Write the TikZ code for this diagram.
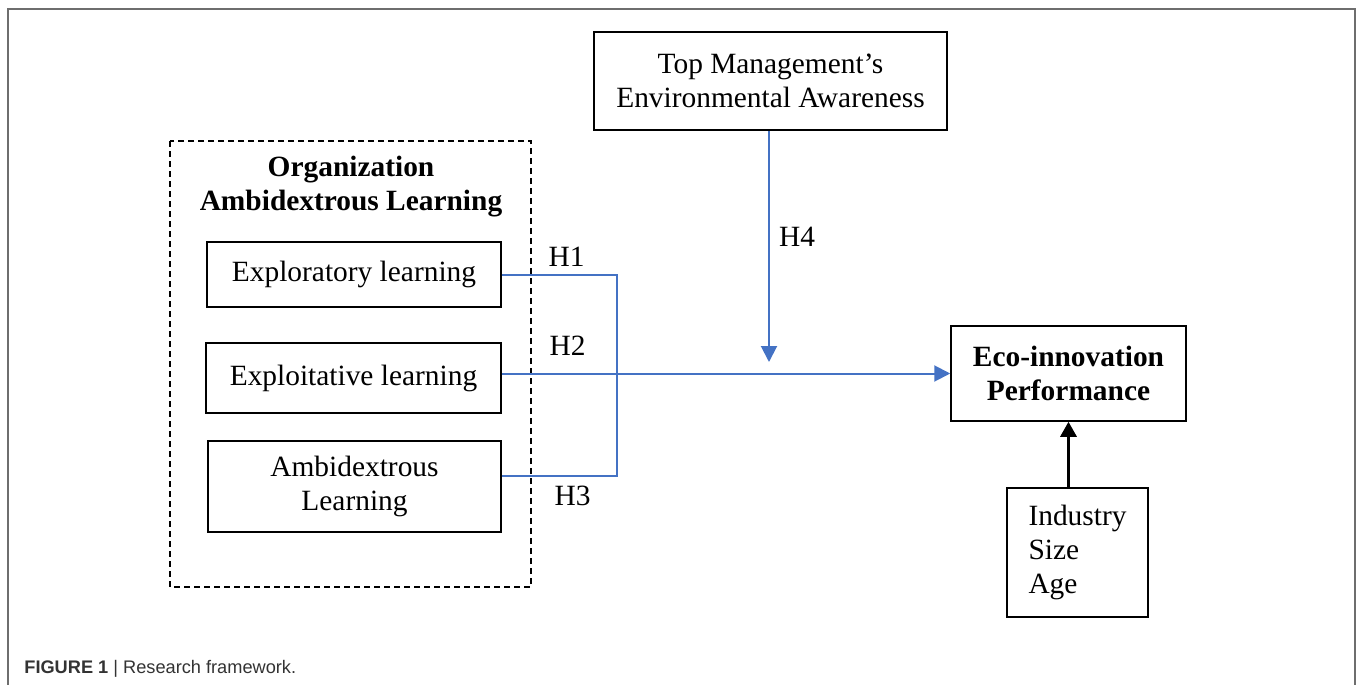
\documentclass[tikz,border=0pt]{standalone}
\usepackage{fontspec}
\setmainfont{Liberation Serif}
\newfontfamily\capfont{Liberation Sans}
\usetikzlibrary{arrows.meta}
\definecolor{lnblue}{HTML}{4472C4}
\definecolor{frameg}{HTML}{6E6E6E}
\definecolor{capg}{HTML}{333333}
\begin{document}
\begin{tikzpicture}[x=0.5pt,y=-0.5pt,
  box/.style={draw=black,line width=0.75pt,align=center,inner sep=2pt,
    font=\fontsize{14.7pt}{17pt}\selectfont},
  hlab/.style={anchor=base,inner sep=0pt,font=\fontsize{14.7pt}{17pt}\selectfont},
  blueln/.style={draw=lnblue,line width=1pt},
  bluearr/.style={blueln,-{Triangle[length=8pt,width=8pt]}},
  blackarr/.style={draw=black,line width=1.5pt,-{Triangle[length=7.5pt,width=8pt]}}]
\useasboundingbox (0,0) rectangle (1357,685);
% outer frame
\draw[frameg,line width=1pt] (8,700) -- (8,8.5) -- (1355,8.5) -- (1355,700);
% dashed group
\draw[black,line width=0.75pt,dash pattern=on 3pt off 2pt] (170,141) rectangle (531,587);
\node[align=center,inner sep=0pt,font=\fontsize{14.7pt}{17pt}\selectfont\bfseries] (grp) at (351,187)
  {Organization\\Ambidextrous Learning};
% nodes
\node[box,minimum width=176.5pt,minimum height=49pt] (top) at (770.5,81)
  {Top Management's\\Environmental Awareness};
\node[box,minimum width=147pt,minimum height=32.5pt] (explor) at (354,274.5) {Exploratory learning};
\node[box,minimum width=147.5pt,minimum height=35pt] (exploit) at (353.5,378) {Exploitative learning};
\node[box,minimum width=146.5pt,minimum height=45.5pt] (ambi) at (354.5,486.5) {Ambidextrous\\Learning};
\node[box,minimum width=117.5pt,minimum height=47.5pt,font=\fontsize{14.7pt}{17pt}\selectfont\bfseries] (eco) at (1068.5,373.5)
  {Eco-innovation\\Performance};
\node[box,align=left,minimum width=70.5pt,minimum height=64.5pt] (ctrl) at (1077.5,552.5)
  {Industry\\Size\\Age};
% connectors
\coordinate (j1) at (617,274.5);
\coordinate (j3) at (617,476);
\coordinate (h4end) at (769,362);
\draw[blueln] (explor.east) -- (j1) -- (j3) -- (ambi.east |- j3);
\draw[bluearr] (exploit.east |- eco.west) -- (eco.west);
\draw[bluearr] (top.south -| h4end) -- (h4end);
\draw[blackarr] (eco.south |- ctrl.north) -- (eco.south);
% labels
\node[hlab] (h1) at (566.5,266) {H1};
\node[hlab] (h2) at (567.5,355) {H2};
\node[hlab] (h3) at (572.5,505) {H3};
\node[hlab] (h4) at (797,246) {H4};
% caption
\node[anchor=base west,inner sep=0pt,text=capg,font=\capfont\fontsize{9.1pt}{11pt}\selectfont] (cap) at (24,673)
  {\textbf{FIGURE 1} | Research framework.};
\end{tikzpicture}
\end{document}
